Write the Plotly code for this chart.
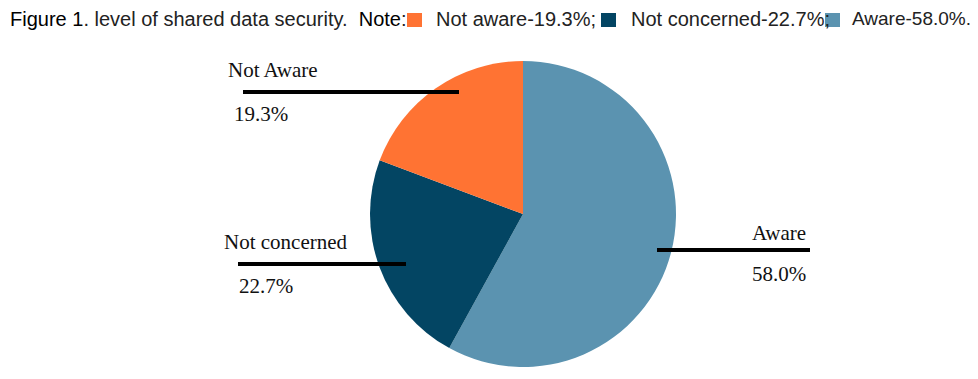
import plotly.graph_objects as go

# page body adds an 8px margin; figure fills the rest of the 978x379 window
OFF = 8
W, H = 978 - 2 * OFF, 379 - 2 * OFF

# ---- data ----
categories = ["Aware", "Not concerned", "Not Aware"]
values = [58.0, 22.7, 19.3]
colors = ["#5B93B0", "#034563", "#FF7333"]
legend_names = ["Not aware", "Not concerned", "Aware"]
legend_values = [19.3, 22.7, 58.0]
legend_colors = ["#FF7333", "#034563", "#5B93B0"]


def px(x):
    return (x - OFF) / W


def py(y):
    return 1 - (y - OFF) / H


cx, cy, r = 523, 214, 153

fig = go.Figure(
    go.Pie(
        labels=categories,
        values=values,
        marker=dict(colors=colors, line=dict(width=0)),
        sort=False,
        direction="clockwise",
        rotation=0,
        textinfo="none",
        hoverinfo="label+percent",
        showlegend=False,
        domain=dict(x=[px(cx - r), px(cx + r)], y=[py(cy + r), py(cy - r)]),
    )
)

# ---- title / note ----
sans = dict(family="Liberation Sans, Arial, sans-serif", size=20, color="#222")
title_y = 19
annotations = [
    dict(
        text='<span style="color:#000">Figure 1</span>. level of shared data security.  '
             '<span style="color:#000">Note</span>:',
        x=px(8), y=py(title_y), xref="paper", yref="paper",
        xanchor="left", yanchor="middle", showarrow=False, font=sans,
    )
]
shapes = []
square_x = [407, 601, 825]   # left edge of each note swatch (px)
text_x = [434, 629, 850]     # left edge of each note text (px)
text_size = [20, 20, 19]
for i, (n, v, c) in enumerate(zip(legend_names, legend_values, legend_colors)):
    sep = ";" if i < len(legend_names) - 1 else "."
    sx = square_x[i]
    shapes.append(
        dict(type="rect", xref="paper", yref="paper",
             x0=px(sx), x1=px(sx + 15), y0=py(27), y1=py(13),
             fillcolor=c, line=dict(width=0))
    )
    annotations.append(
        dict(text=f"{n}-{v:.1f}%{sep}", x=px(text_x[i]), y=py(title_y),
             xref="paper", yref="paper", xanchor="left", yanchor="middle",
             showarrow=False, font=dict(sans, size=text_size[i]))
    )

# ---- slice labels with leader lines ----
serif = dict(family="Liberation Serif, Times New Roman, serif", size=21, color="#111")
label_layout = {
    "Not Aware": dict(name=(226, 70, "left"), pct=(232, 114, "left"), line=(243, 459, 92)),
    "Not concerned": dict(name=(222, 242, "left"), pct=(237, 286, "left"), line=(238, 406, 264)),
    "Aware": dict(name=(808, 233, "right"), pct=(808, 274, "right"), line=(657, 810, 250)),
}
for cat, val in zip(categories, values):
    L = label_layout[cat]
    for txt, (x, y, anc) in ((cat, L["name"]), (f"{val:.1f}%", L["pct"])):
        annotations.append(
            dict(text=txt, x=px(x), y=py(y), xref="paper", yref="paper",
                 xanchor=anc, yanchor="middle", showarrow=False, font=serif)
        )
    x0, x1, yl = L["line"]
    shapes.append(
        dict(type="line", xref="paper", yref="paper",
             x0=px(x0), x1=px(x1), y0=py(yl), y1=py(yl),
             line=dict(color="black", width=4))
    )

fig.update_layout(
    width=W, height=H,
    margin=dict(l=0, r=0, t=0, b=0),
    paper_bgcolor="white", plot_bgcolor="white",
    annotations=annotations, shapes=shapes,
)

fig.write_html("out.html")
